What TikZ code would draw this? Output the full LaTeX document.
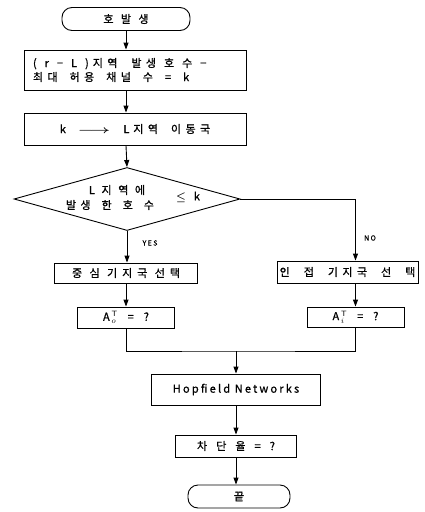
\documentclass[tikz,border=0pt]{standalone}
\usepackage{fontspec}
\setmainfont{Noto Sans CJK KR}[LetterSpace=20,FakeBold=0.8]
\newfontfamily\spaced{Noto Sans CJK KR}[LetterSpace=45,FakeBold=0.8]
\newfontfamily\kr{Noto Sans CJK KR}[LetterSpace=40,FakeBold=0.8]
\newfontfamily\wider{Noto Sans CJK KR}[LetterSpace=60,FakeBold=0.8]
\newcommand\gap[1][8pt]{\hspace{#1}}
\usetikzlibrary{shapes.geometric,arrows.meta}
\begin{document}
\begin{tikzpicture}[x=1pt,y=-1pt,font=\fontsize{11}{14}\selectfont,
    box/.style={draw, line width=0.9pt, inner sep=2pt},
    term/.style={box, rounded corners=10pt},
    flow/.style={-{Triangle[length=7pt,width=5pt]}, line width=0.9pt},
    link/.style={line width=0.9pt},
    tag/.style={font=\fontsize{7}{8}\selectfont}]
    \useasboundingbox (0,0) rectangle (424,512);

    % Début
    \node[term, minimum width=128, minimum height=23] (start) at (126,19) {\spaced 호 발 생};

    % Calcul de k
    \node[box, minimum width=222, minimum height=40, text width=204, align=left] (calc) at (135,70) {\kr (\gap r\gap −\gap L\gap )\gap[4pt]지역\gap[14pt]발생\gap 호\gap 수\gap −\\최대\gap[12pt]허용\gap[12pt]채널\gap[12pt]수\gap[12pt]=\gap[12pt]k};
    \node[box, minimum width=222, minimum height=32] (move) at (135,129) {\kr k\gap[12pt]\scalebox{1.6}[1]{\boldmath$\longrightarrow$}\gap[13pt]L\gap[4pt]지역\gap[13pt]이동국};

    % Test
    \node[draw, diamond, line width=0.9pt, minimum width=226, minimum height=63, inner sep=0] (decide) at (127,199) {};
    \node (dtop) at (117,190) {\wider L지역에};
    \node (dbot) at (110,205) {\kr 발생\gap[11pt]한\gap[11pt]호\gap[11pt]수};
    \node (dle) at (188,197) {{\boldmath$\leq$}\gap k};
    \node[tag] (yes) at (150,243) {YES};
    \node[tag] (no) at (370,238) {NO};

    % Deux branches
    \node[box, minimum width=143, minimum height=20] (center) at (126,273) {\spaced 중 심 기지국 선택};
    \node[box, minimum width=141, minimum height=22] (adj) at (347.5,272) {\kr 인\gap[14pt]접\gap[14pt]기지국\gap[14pt]선\gap[14pt]택};
    \node[box, minimum width=97, minimum height=21] (Ao) at (126,317.5) {A\,$^{\mathsf{T}}_{o}$\gap[10pt]=\gap[10pt]?};
    \node[box, minimum width=97, minimum height=20] (Ai) at (355.5,317) {A\,$^{\mathsf{T}}_{i}$\gap[10pt]=\gap[10pt]?};

    % Réseau et fin
    \coordinate (join) at (236,351);
    \node[box, minimum width=169, minimum height=31] (hop) at (236,389.5) {Hopfield Networks};
    \node[box, minimum width=121, minimum height=22] (block) at (236,446) {\wider 차 단 율 = ?};
    \node[term, minimum width=102, minimum height=23] (end) at (239,496.5) {끝};

    % Liaisons
    \draw[flow] (start.south) -- (start.south |- calc.north);
    \draw[flow] (start.south |- calc.south) -- (start.south |- move.north);
    \draw[flow] (start.south |- move.south) -- (decide.north);
    \draw[flow] (decide.south) -- (decide.south |- center.north);
    \draw[flow] (decide.east) -| (Ai.north |- adj.north);
    \draw[flow] (center.south) -- (Ao.north);
    \draw[flow] (Ai.north |- adj.south) -- (Ai.north);
    \draw[link] (Ao.south) |- (join) -| (Ai.south);
    \draw[flow] (join) -- (hop.north);
    \draw[flow] (hop.south) -- (block.north);
    \draw[flow] (block.south) -- (block.south |- end.north);
\end{tikzpicture}
\end{document}
